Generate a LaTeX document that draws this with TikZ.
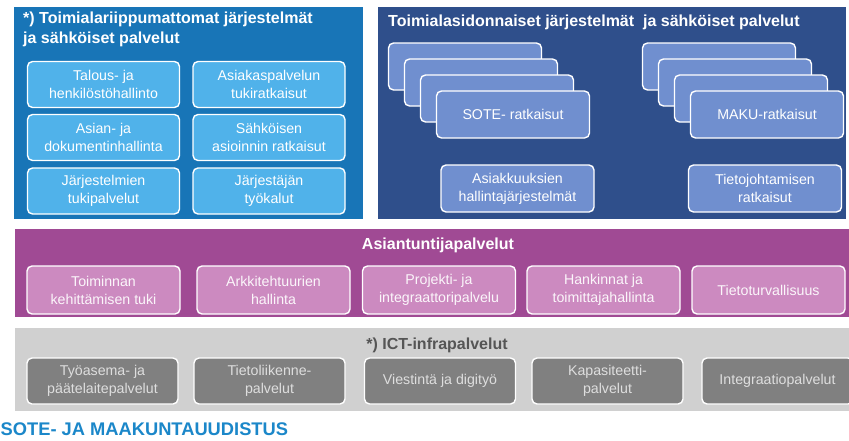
\documentclass[tikz,border=0pt]{standalone}
\usepackage{fontspec}
\setmainfont{Liberation Sans}
\usepackage{tikz}
\usepackage{xcolor}

\definecolor{sharedblue}{RGB}{24,117,183}
\definecolor{sharedtile}{RGB}{80,178,234}
\definecolor{sectorblue}{RGB}{47,79,139}
\definecolor{sectortile}{RGB}{112,143,207}
\definecolor{expertband}{RGB}{160,74,148}
\definecolor{experttile}{RGB}{204,138,192}
\definecolor{infraband}{RGB}{208,208,208}
\definecolor{infratile}{RGB}{128,128,128}
\definecolor{infratext}{RGB}{222,222,222}
\definecolor{infratitle}{RGB}{85,85,85}
\definecolor{reformblue}{RGB}{27,135,201}

\tikzset{
	tile/.style={draw=white, line width=1.4pt, rounded corners=5pt, align=center,
		inner sep=0pt, text=white, font=\fontsize{14.2}{18}\selectfont},
	sharedtile/.style={tile, fill=sharedtile, minimum width=152pt, minimum height=46pt},
	sectortile/.style={tile, fill=sectortile, minimum width=153pt, minimum height=47pt},
	experttile/.style={tile, fill=experttile, text=white!92!experttile, minimum width=153pt, minimum height=48pt},
	infratile/.style={tile, fill=infratile, text=infratext, minimum width=151pt, minimum height=46pt},
	bandtitle/.style={font=\fontsize{16}{20}\selectfont\bfseries, inner sep=0pt}
}

\begin{document}
\begin{tikzpicture}[x=1pt, y=-1pt]
	\useasboundingbox (0,0) rectangle (849,440);
	\clip (0,0) rectangle (849,440);
	\fill[white] (0,0) rectangle (849,440);
	
	\fill[sharedblue] (14,7) rectangle (363,219);
	\node[bandtitle, text=white, anchor=north west, align=left] (sharedtitle) at (23,12)
	{*) Toimialariippumattomat järjestelmät\\ja sähköiset palvelut};
	
	\node[sharedtile] (talous) at (103.5,84.5) {Talous- ja\\henkilöstöhallinto};
	\node[sharedtile] (asiakaspalvelu) at (269,84.5) {Asiakaspalvelun\\tukiratkaisut};
	\node[sharedtile] (asianhallinta) at (103.5,137.5) {Asian- ja\\dokumentinhallinta};
	\node[sharedtile] (asiointi) at (269,137.5) {Sähköisen\\asioinnin ratkaisut};
	\node[sharedtile] (tukipalvelut) at (103.5,191) {Järjestelmien\\tukipalvelut};
	\node[sharedtile] (tyokalut) at (269,191) {Järjestäjän\\työkalut};
	
	\fill[sectorblue] (378,7) rectangle (846,219);
	\node[bandtitle, text=white, anchor=west] (sectortitle) at (388,22)
	{Toimialasidonnaiset järjestelmät \ ja sähköiset palvelut};
	
	\node[sectortile] (sote1) at (465,66.5) {};
	\node[sectortile] (sote2) at (481,82.5) {};
	\node[sectortile] (sote3) at (497,98.5) {};
	\node[sectortile] (sote) at (513,114.5) {SOTE- ratkaisut};
	
	\node[sectortile] (maku1) at (719,66.5) {};
	\node[sectortile] (maku2) at (735,82.5) {};
	\node[sectortile] (maku3) at (751,98.5) {};
	\node[sectortile] (maku) at (767,114.5) {MAKU-ratkaisut};
	
	\node[sectortile] (asiakkuudet) at (517.5,188.5) {Asiakkuuksien\\hallintajärjestelmät};
	\node[sectortile] (tietojohtaminen) at (765,188.5) {Tietojohtamisen\\ratkaisut};
	
	\fill[expertband] (15,229) rectangle (860,317);
	\node[bandtitle, text=white] (experttitle) at (438,245) {Asiantuntijapalvelut};
	
	\node[experttile] (kehittaminen) at (103.5,290) {Toiminnan\\kehittämisen tuki};
	\node[experttile] (arkkitehtuuri) at (273.5,290) {Arkkitehtuurien\\hallinta};
	\node[experttile] (projekti) at (439,290) {Projekti- ja\\integraattoripalvelu};
	\node[experttile] (hankinnat) at (603.5,290) {Hankinnat ja\\toimittajahallinta};
	\node[experttile] (tietoturva) at (768.5,290) {Tietoturvallisuus};
	
	\fill[infraband] (15,328) rectangle (860,411);
	\node[bandtitle, text=infratitle] (infratitle) at (437,345) {*) ICT-infrapalvelut};
	
	\node[infratile] (tyoasema) at (102.5,381) {Työasema- ja\\päätelaitepalvelut};
	\node[infratile] (tietoliikenne) at (269.5,381) {Tietoliikenne-\\palvelut};
	\node[infratile] (viestinta) at (440,381) {Viestintä ja digityö};
	\node[infratile] (kapasiteetti) at (607.5,381) {Kapasiteetti-\\palvelut};
	\node[infratile] (integraatio) at (777.5,381) {Integraatiopalvelut};
	
	\node[anchor=west, inner sep=0pt, text=reformblue, font=\fontsize{18.3}{20}\selectfont\bfseries] (reform) at (0.5,429)
	{SOTE- JA MAAKUNTAUUDISTUS};
\end{tikzpicture}
\end{document}
